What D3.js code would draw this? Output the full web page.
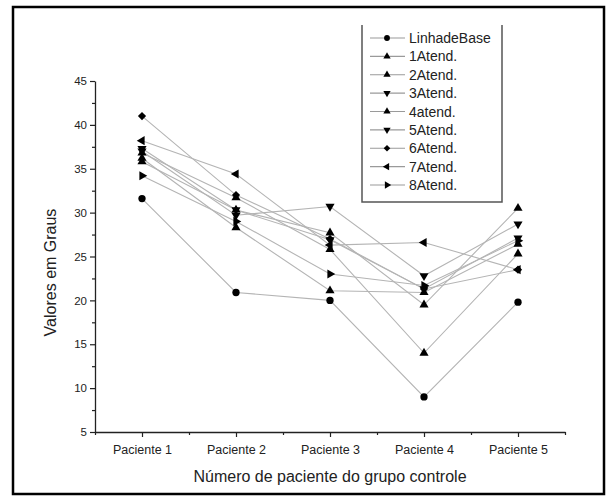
<!DOCTYPE html>
<html>
<head>
<meta charset="utf-8">
<script src="https://cdn.jsdelivr.net/npm/d3@7"></script>
<style>
  html, body { margin: 0; padding: 0; background: #fff; }
  svg { display: block; font-family: "Liberation Sans", Arial, sans-serif; }
</style>
</head>
<body>
<svg id="chart" width="611" height="501"></svg>
<script>
// Patients on the x axis
const patients = ["Paciente 1", "Paciente 2", "Paciente 3", "Paciente 4", "Paciente 5"];

// Measured angles (degrees) per session
const linhaDeBase = [31.6, 20.9, 20.0, 9.0, 19.8];
const atend1 = [36.2, 28.3, 21.1, 20.9, 26.4];
const atend2 = [36.8, 31.7, 25.8, 14.0, 25.3];
const atend3 = [37.0, 29.7, 30.7, 22.8, 28.7];
const atend4 = [35.8, 30.3, 27.7, 19.5, 30.5];
const atend5 = [37.3, 30.3, 26.9, 21.3, 27.1];
const atend6 = [41.0, 32.0, 27.0, 21.3, 23.5];
const atend7 = [38.2, 34.4, 26.3, 26.6, 23.5];
const atend8 = [34.2, 29.0, 23.0, 21.7, 26.8];

const seriesNames = ["LinhadeBase", "1Atend.", "2Atend.", "3Atend.", "4atend.", "5Atend.", "6Atend.", "7Atend.", "8Atend."];
const seriesValues = [linhaDeBase, atend1, atend2, atend3, atend4, atend5, atend6, atend7, atend8];
const seriesMarkers = ["circle", "up", "up", "down", "up", "down", "diamond", "left", "right"];

const yTicks = [5, 10, 15, 20, 25, 30, 35, 40, 45];
const yMinorTicks = [7.5, 12.5, 17.5, 22.5, 27.5, 32.5, 37.5, 42.5];
const xMinorTicks = [0.5, 1.5, 2.5, 3.5, 4.5, 5.5];

const svg = d3.select("#chart");

// Outer frame
svg.append("rect")
  .attr("x", 13).attr("y", 7).attr("width", 591).attr("height", 487)
  .attr("fill", "none").attr("stroke", "#000").attr("stroke-width", 2.5);

const x = d3.scaleLinear().domain([0.5, 5.5]).range([95, 565]);
const y = d3.scaleLinear().domain([5, 45]).range([432, 81]);

// Marker shapes
function markerPath(kind) {
  if (kind === "circle") return d3.symbol(d3.symbolCircle, 42)();
  if (kind === "diamond") return d3.symbol(d3.symbolSquare, 34)();
  return d3.symbol(d3.symbolTriangle, 36)();
}
function markerRotation(kind) {
  return { up: 0, down: 180, left: -90, right: 90, diamond: 45, circle: 0 }[kind];
}

// Y axis
const yAxis = svg.append("g").attr("transform", `translate(${x(0.5)},0)`)
  .call(d3.axisLeft(y).tickValues(yTicks).tickSize(5).tickSizeOuter(0).tickPadding(3));
svg.append("g").attr("transform", `translate(${x(0.5)},0)`)
  .call(d3.axisLeft(y).tickValues(yMinorTicks).tickSize(3).tickFormat(""))
  .call(g => g.select(".domain").remove());

// X axis
const xAxis = svg.append("g").attr("transform", `translate(0,${y(5)})`)
  .call(d3.axisBottom(x).tickValues([1, 2, 3, 4, 5]).tickFormat(d => patients[d - 1])
    .tickSize(5).tickSizeOuter(0).tickPadding(8));
svg.append("g").attr("transform", `translate(0,${y(5)})`)
  .call(d3.axisBottom(x).tickValues(xMinorTicks).tickSize(3).tickFormat(""))
  .call(g => g.select(".domain").remove());

svg.selectAll(".domain").attr("stroke", "#222").attr("stroke-width", 1.3);
svg.selectAll(".tick line").attr("stroke", "#222").attr("stroke-width", 1.2);
yAxis.selectAll("text").attr("font-size", 11.5).attr("fill", "#222");
xAxis.selectAll("text").attr("font-size", 12.5).attr("fill", "#222");

// Axis titles
svg.append("text")
  .attr("x", x(3)).attr("y", 482)
  .attr("text-anchor", "middle").attr("font-size", 16).attr("fill", "#222")
  .text("Número de paciente do grupo controle");
svg.append("text")
  .attr("transform", `translate(56,${(y(5) + y(45)) / 2 + 16}) rotate(-90)`)
  .attr("text-anchor", "middle").attr("font-size", 16).attr("fill", "#222")
  .text("Valores em Graus");

// Series lines
const line = d3.line().x((d, i) => x(i + 1)).y(d => y(d));
const plot = svg.append("g");
seriesValues.forEach(vals => {
  plot.append("path")
    .attr("d", line(vals))
    .attr("fill", "none")
    .attr("stroke", "#b4b4b4")
    .attr("stroke-width", 1.1);
});

// Series markers
seriesValues.forEach((vals, s) => {
  const kind = seriesMarkers[s];
  plot.selectAll(null)
    .data(vals)
    .join("path")
    .attr("d", markerPath(kind))
    .attr("transform", (d, i) => `translate(${x(i + 1)},${y(d)}) rotate(${markerRotation(kind)})`)
    .attr("fill", "#000");
});

// Legend
const legend = svg.append("g");
const lgLeft = 362, lgRight = 502, lgTop = 25, lgBottom = 202;
legend.append("path")
  .attr("d", `M${lgLeft},${lgTop}V${lgBottom}H${lgRight}V${lgTop}`)
  .attr("fill", "none").attr("stroke", "#555").attr("stroke-width", 1.5);

const rowY = d3.scaleLinear().domain([0, seriesNames.length - 1]).range([38, 185]);
seriesNames.forEach((name, s) => {
  const ry = rowY(s);
  legend.append("line")
    .attr("x1", 370).attr("x2", 405).attr("y1", ry).attr("y2", ry)
    .attr("stroke", "#9a9a9a").attr("stroke-width", 1.1);
  const kind = seriesMarkers[s];
  legend.append("path")
    .attr("d", markerPath(kind))
    .attr("transform", `translate(387,${ry}) rotate(${markerRotation(kind)}) scale(0.8)`)
    .attr("fill", "#000");
  legend.append("text")
    .attr("x", 409).attr("y", ry + 5)
    .attr("font-size", 14).attr("fill", "#222")
    .text(name);
});
</script>
</body>
</html>
